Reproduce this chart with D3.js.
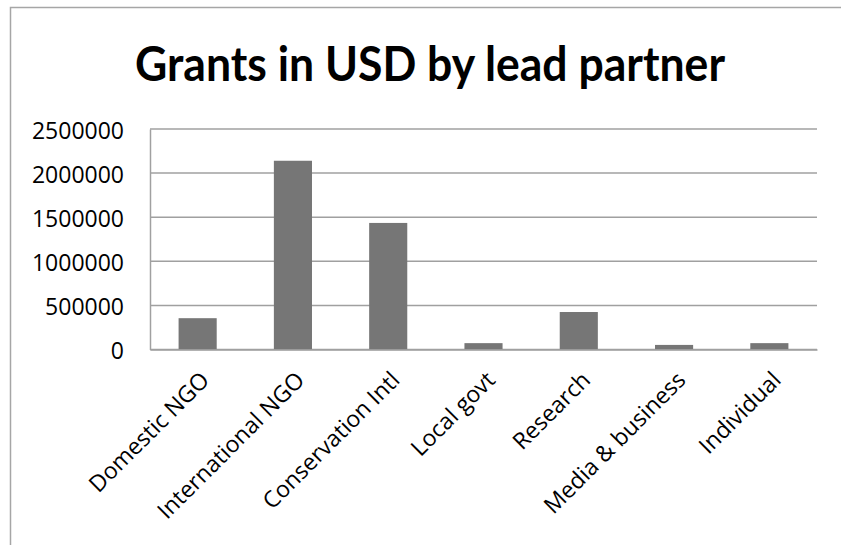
<!DOCTYPE html>
<html>
<head>
<meta charset="utf-8">
<script src="https://cdn.jsdelivr.net/npm/d3@7"></script>
<style>
  html, body { margin: 0; padding: 0; background: #fff; }
  svg { display: block; }
</style>
</head>
<body>
<script>
// Grants by lead partner type (USD)
const categories = ["Domestic NGO", "International NGO", "Conservation Intl", "Local govt", "Research", "Media & business", "Individual"];
const grants = [355000, 2140000, 1435000, 72000, 425000, 52000, 72000];
const yTicks = [0, 500000, 1000000, 1500000, 2000000, 2500000];
const titleText = "Grants in USD by lead partner";

const W = 841, H = 545;
const plot = { left: 150, right: 817, top: 129, bottom: 349.5 };

const svg = d3.select("body").append("svg").attr("width", W).attr("height", H);

// chart frame
svg.append("rect")
  .attr("x", 10.5).attr("y", 7.5)
  .attr("width", W + 10).attr("height", H + 10)
  .attr("fill", "#fff").attr("stroke", "#a6a6a6").attr("stroke-width", 1.5);

// title
svg.append("text")
  .attr("x", 430).attr("y", 80.5)
  .attr("text-anchor", "middle")
  .attr("font-family", "Lato, 'Open Sans', sans-serif")
  .attr("font-weight", 700)
  .attr("font-size", 48)
  .attr("textLength", 590)
  .attr("lengthAdjust", "spacingAndGlyphs")
  .attr("fill", "#000")
  .text(titleText);

const x = d3.scaleBand().domain(categories).range([plot.left, plot.right]).paddingInner(0.6).paddingOuter(0.3);
const y = d3.scaleLinear().domain([0, 2500000]).range([plot.bottom, plot.top]);

// gridlines
svg.append("g").selectAll("line").data(yTicks).join("line")
  .attr("x1", plot.left).attr("x2", plot.right)
  .attr("y1", d => y(d)).attr("y2", d => y(d))
  .attr("stroke", "#a0a0a0").attr("stroke-width", 1.5);

// value axis
const yAxis = svg.append("g")
  .attr("transform", `translate(${plot.left},0)`)
  .call(d3.axisLeft(y).tickValues(yTicks).tickFormat(d3.format("d")).tickSize(0).tickPadding(26));
yAxis.select(".domain").attr("stroke", "#a0a0a0").attr("stroke-width", 1.5);
yAxis.selectAll("text")
  .attr("font-family", "'Open Sans', sans-serif")
  .attr("font-size", 23)
  .attr("fill", "#000")
  .attr("dy", "0.4em");

// bars
svg.append("g").selectAll("rect").data(grants).join("rect")
  .attr("x", (d, i) => x(categories[i]))
  .attr("width", x.bandwidth())
  .attr("y", d => y(d))
  .attr("height", d => y(0) - y(d))
  .attr("fill", "#767676");

// category axis, labels turned 45 degrees
const xAxis = svg.append("g")
  .attr("transform", `translate(0,${plot.bottom})`)
  .call(d3.axisBottom(x).tickSize(0));
xAxis.select(".domain").attr("stroke", "#a0a0a0").attr("stroke-width", 1.5);
xAxis.selectAll("text")
  .attr("font-family", "'Open Sans', sans-serif")
  .attr("font-size", 23)
  .attr("fill", "#000")
  .attr("text-anchor", "end")
  .attr("y", 0)
  .attr("dy", 0)
  .attr("transform", "translate(13,32) rotate(-45)");
</script>
</body>
</html>
